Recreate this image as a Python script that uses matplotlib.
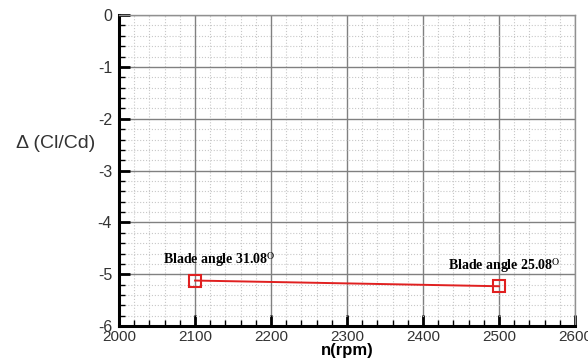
import numpy as np
import matplotlib.pyplot as plt
from matplotlib.ticker import MultipleLocator

rpm = [2100, 2500]
delta_clcd = [-5.12, -5.23]
labels = ['Blade angle 31.08$^{\\mathrm{O}}$', 'Blade angle 25.08$^{\\mathrm{O}}$']
label_pos = [(2058, -4.72), (2433, -4.84)]

plt.rcParams['font.family'] = ['Liberation Sans', 'DejaVu Sans']
plt.rcParams['axes.unicode_minus'] = False

fig = plt.figure(figsize=(5.88, 3.6), dpi=100)
ax = fig.add_axes([0.2024, 0.094, 0.7756, 0.864])

ax.plot(rpm, delta_clcd, color='#e02020', lw=1.4, marker='s', markersize=8,
        markerfacecolor='none', markeredgecolor='#e02020', markeredgewidth=1.5,
        zorder=5)

for txt, (tx, ty) in zip(labels, label_pos):
    ax.text(tx, ty, txt, fontsize=10, fontweight='bold', family='Liberation Serif',
            ha='left', va='center', math_fontfamily='stix', zorder=6)

ax.set_xlim(2000, 2600)
ax.set_ylim(-6, 0)
ax.xaxis.set_major_locator(MultipleLocator(100))
ax.xaxis.set_minor_locator(MultipleLocator(20))
ax.yaxis.set_major_locator(MultipleLocator(1))
ax.yaxis.set_minor_locator(MultipleLocator(0.2))

ax.grid(which='major', color='#808080', lw=1.0)
ax.grid(which='minor', color='#c8c8c8', lw=0.8, ls=':')
ax.set_axisbelow(True)

for s in ['left', 'bottom']:
    ax.spines[s].set_linewidth(2.2)
    ax.spines[s].set_color('black')
for s in ['top', 'right']:
    ax.spines[s].set_linewidth(1.0)
    ax.spines[s].set_color('#909090')

ax.tick_params(which='major', direction='in', length=8, width=2, labelsize=11.5,
               labelcolor='#333333', pad=5)
ax.tick_params(axis='x', which='major', pad=3, labelsize=11)
ax.tick_params(which='minor', direction='in', length=4, width=1)
ax.tick_params(axis='both', which='both', top=False, right=False)

ax.set_xlabel('n(rpm)', fontsize=12, fontweight='bold', labelpad=-1)
ax.set_ylabel('Δ (Cl/Cd)', fontsize=14, rotation=0, color='#333333',
              ha='center', va='center')
ax.yaxis.set_label_coords(-0.138, 0.588)

fig.savefig('out.png', dpi=100)
